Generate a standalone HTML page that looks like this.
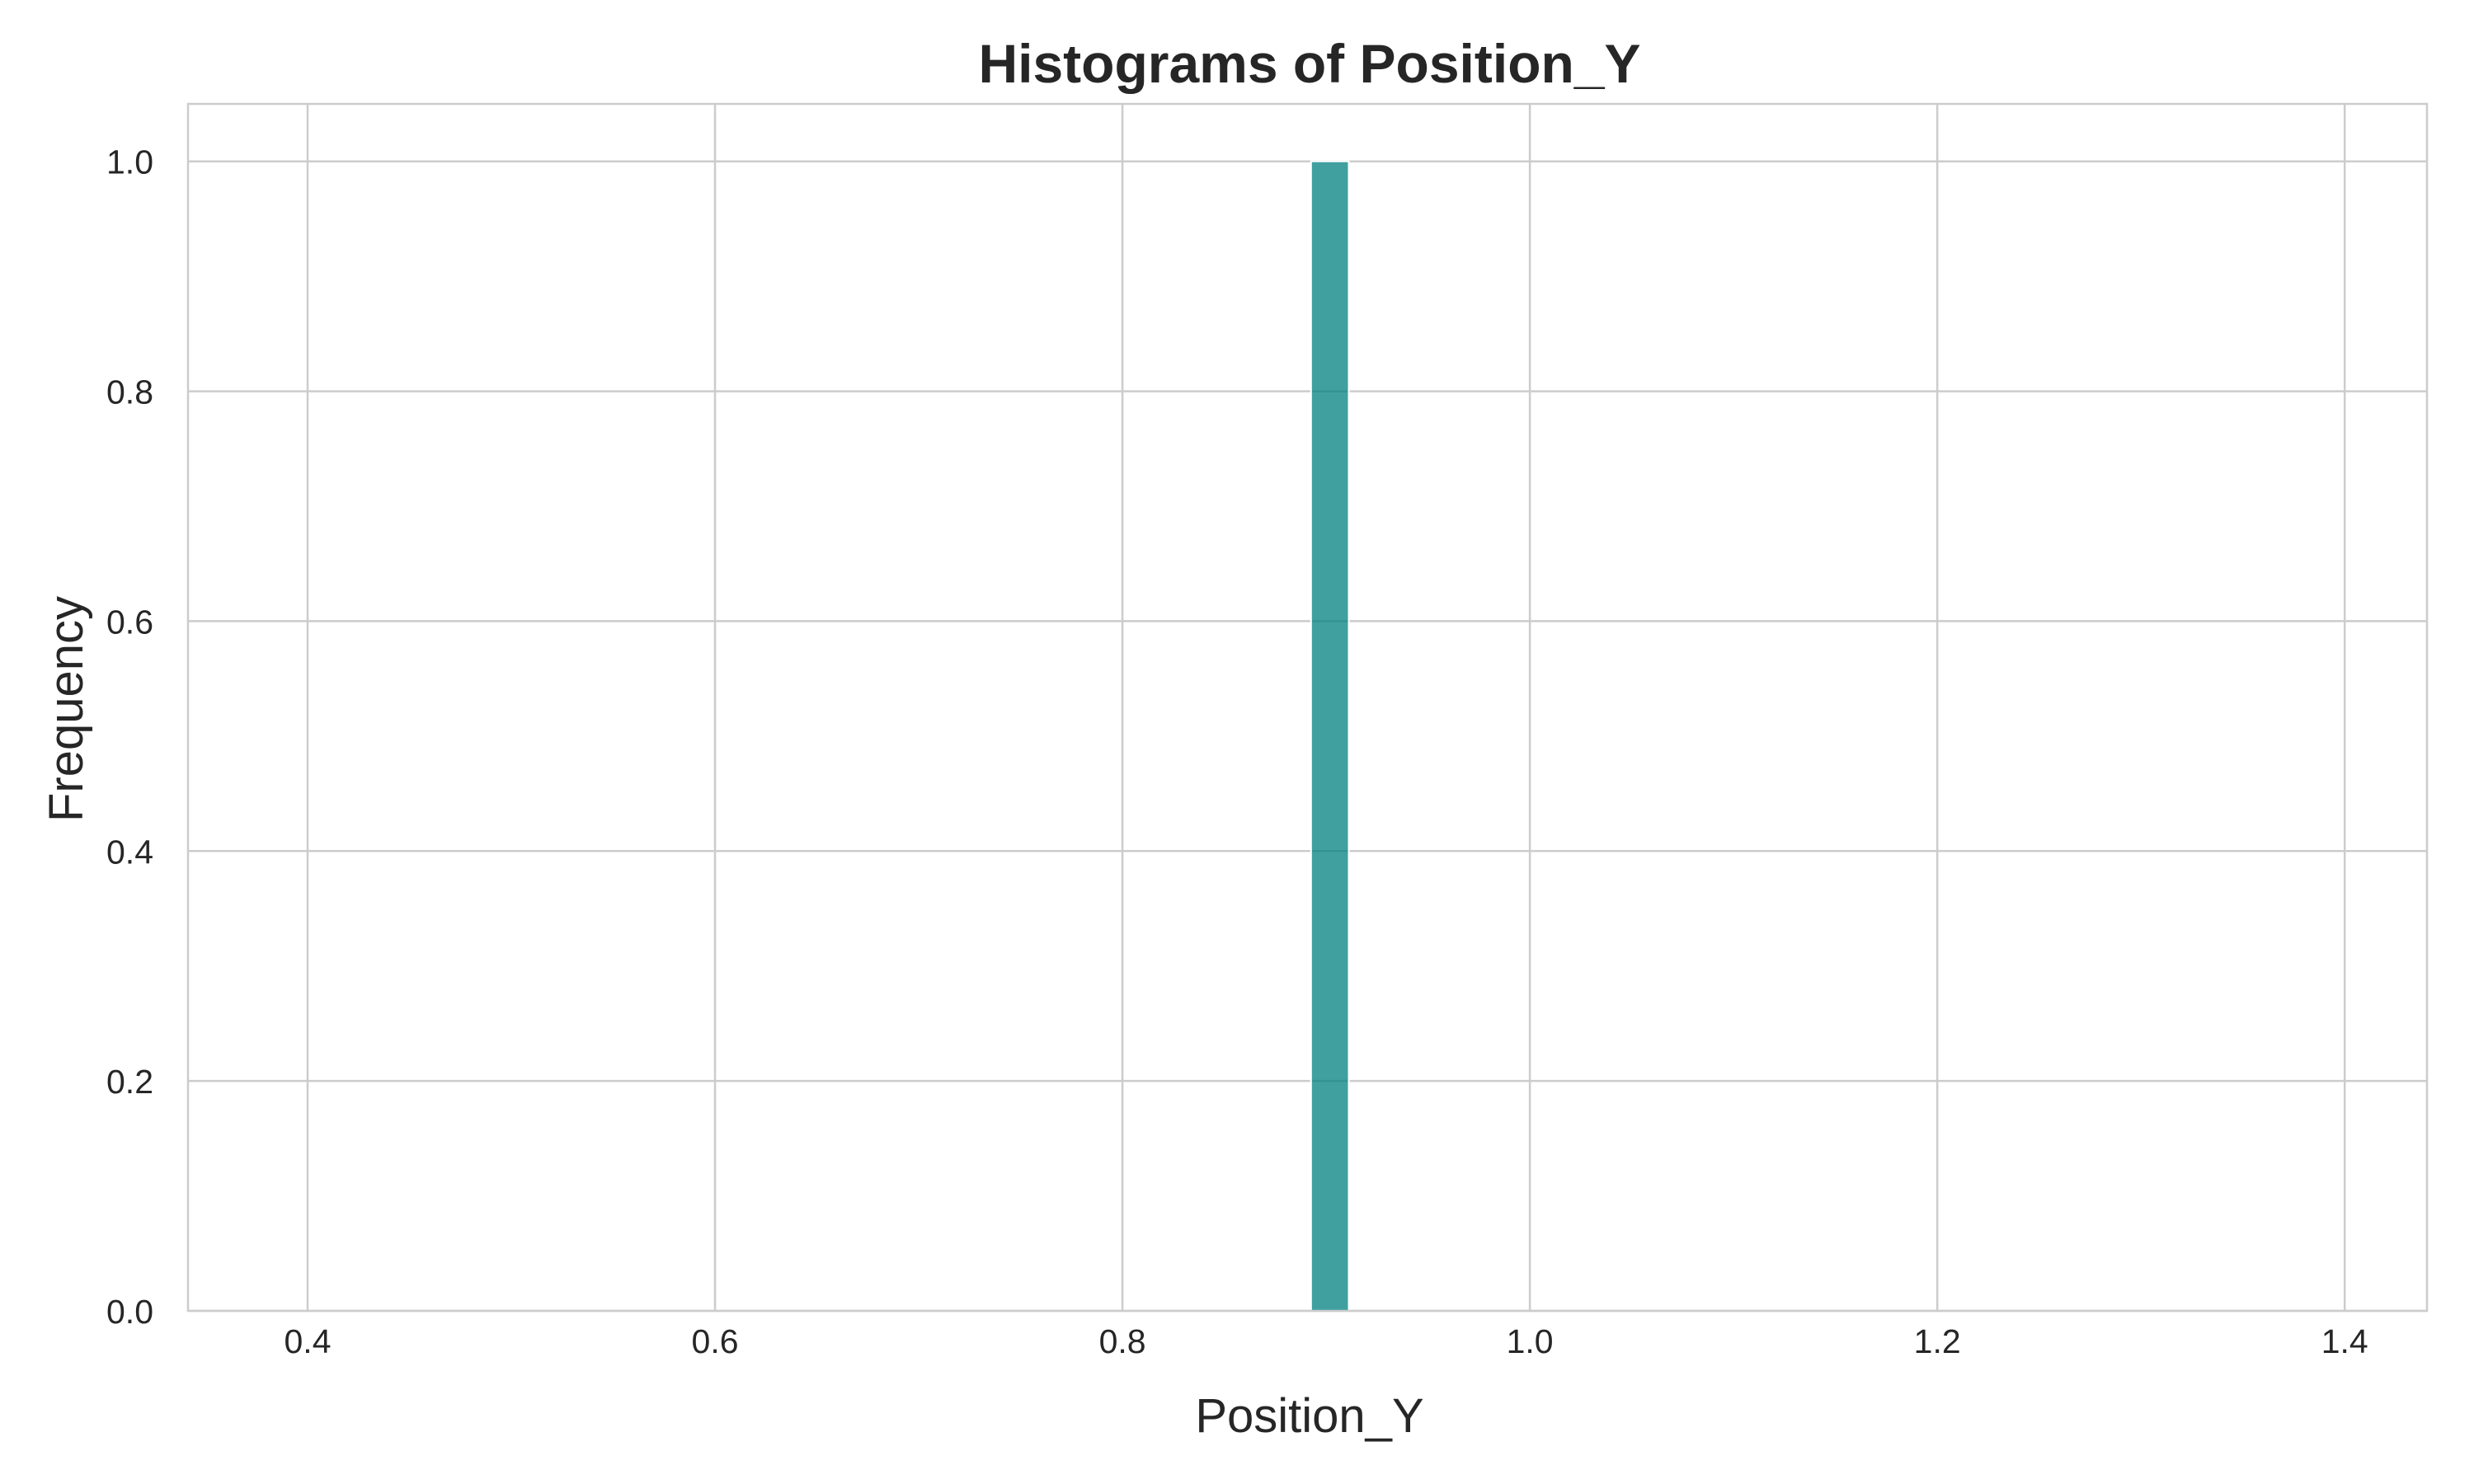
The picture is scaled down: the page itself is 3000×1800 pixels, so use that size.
<!DOCTYPE html>
<html><head><meta charset="utf-8"><style>
html,body{margin:0;padding:0;background:#fff;}
svg{display:block;font-family:"Liberation Sans",Arial,sans-serif;}
</style></head><body>
<svg id="chart" width="3000" height="1800" viewBox="0 0 3000 1800">
<rect x="0" y="0" width="3000" height="1800" fill="#fff"/>
<g id="grid"></g>
<g id="bars"></g>
<rect x="228" y="126" width="2715" height="1464" fill="none" stroke="#cccccc" stroke-width="2.5"/>
<g id="ticks"></g>
<text x="1588" y="100" text-anchor="middle" font-size="66" font-weight="bold" fill="#262626">Histograms of Position_Y</text>
<text x="1588" y="1737" text-anchor="middle" font-size="58" fill="#262626">Position_Y</text>
<text x="0" y="0" transform="translate(100,860) rotate(-90)" text-anchor="middle" font-size="58" fill="#262626">Frequency</text>
</svg>
<script>
const binStarts = [0.8926];
const binWidths = [0.0185];
const counts = [1];
const xTicks = [0.4, 0.6, 0.8, 1.0, 1.2, 1.4];
const yTicks = [0.0, 0.2, 0.4, 0.6, 0.8, 1.0];

const L=228,R=2943,T=126,B=1590;
const xMin=0.3413,xMax=1.4404,yMin=0,yMax=1.05;
const sx=v=>L+(v-xMin)/(xMax-xMin)*(R-L);
const sy=v=>B-(v-yMin)/(yMax-yMin)*(B-T);
const NS='http://www.w3.org/2000/svg';
const grid=document.getElementById('grid'),ticks=document.getElementById('ticks'),bars=document.getElementById('bars');
function mk(tag,attrs,parent){const e=document.createElementNS(NS,tag);for(const k in attrs)e.setAttribute(k,attrs[k]);parent.appendChild(e);return e;}
xTicks.forEach(t=>{
  const l=mk('line',{x1:sx(t),x2:sx(t),y1:T,y2:B,stroke:'#cccccc','stroke-width':2.5},grid);
  
  
  const tx=mk('text',{x:sx(t),y:B+51,'text-anchor':'middle','font-size':41,fill:'#262626'},ticks);
  tx.textContent=t.toFixed(1);
  
  
});
yTicks.forEach(t=>{
  const l=mk('line',{x1:L,x2:R,y1:sy(t),y2:sy(t),stroke:'#cccccc','stroke-width':2.5},grid);
  
  
  const tx=mk('text',{x:L-42,y:sy(t)+15,'text-anchor':'end','font-size':41,fill:'#262626'},ticks);
  tx.textContent=t.toFixed(1);
  
  
});
counts.forEach((c,i)=>{
  const x0=sx(binStarts[i]),x1=sx(binStarts[i]+binWidths[i]);
  const r=mk('rect',{x:x0,y:sy(c),width:x1-x0,height:sy(0)-sy(c),fill:'#008080','fill-opacity':0.75,stroke:'#ffffff','stroke-width':2},bars);
  
  
});
</script>
</body></html>
